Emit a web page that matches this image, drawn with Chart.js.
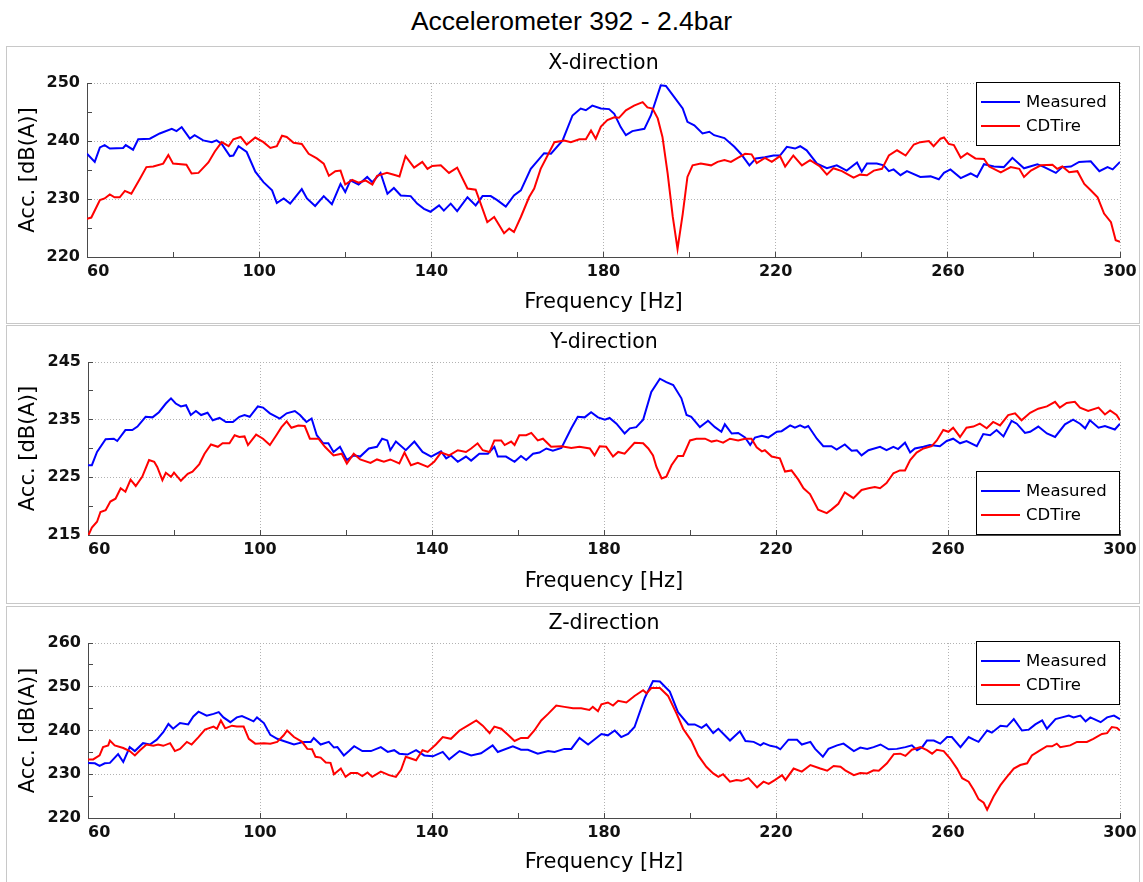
<!DOCTYPE html>
<html>
<head>
<meta charset="utf-8">
<title>Accelerometer 392 - 2.4bar</title>
<script src="https://cdn.jsdelivr.net/npm/chart.js@4.4.1/dist/chart.umd.min.js"></script>
<style>
  html, body { margin: 0; padding: 0; background: #fff; }
  body { width: 1143px; height: 882px; position: relative; overflow: hidden; }
  #figTitle {
    position: absolute; left: 0; top: 8px; width: 1143px; text-align: center;
    font-family: "Liberation Sans", Arial, sans-serif; font-size: 26.5px; line-height: 26.5px; color: #000;
  }
  .panel { position: absolute; left: 6px; width: 1132px; border: 1px solid #c8c8c8; background: #fff; }
  .panel canvas { display: block; }
</style>
</head>
<body>
<div id="figTitle">Accelerometer 392 - 2.4bar</div>
<div class="panel" style="top:46px;height:276px"><canvas id="chartX" width="1132" height="276"></canvas></div>
<div class="panel" style="top:325px;height:277px"><canvas id="chartY" width="1132" height="277"></canvas></div>
<div class="panel" style="top:606px;height:275px"><canvas id="chartZ" width="1132" height="275"></canvas></div>

<script>
// Series: [frequency in Hz, acceleration level in dB(A)]
const seriesNames = ['Measured', 'CDTire'];
const freqTicks = [60, 100, 140, 180, 220, 260, 300];

const xMeasured = [
  [60,237.8],[61.8,236.4],[63,238.9],[64.1,239.3],[65.3,238.7],[68.4,238.8],[69,239.3],[70.7,238.5],[71.9,240.3],
  [74.6,240.4],[76.9,241.3],[79.7,242.1],[80.8,241.7],[82,242.4],[83.9,240.4],[85,241],[87,240.1],[89,239.8],
  [90.1,240.1],[91.3,239.5],[93.2,237.4],[94,237.5],[95.2,239.1],[97.1,238.1],[99.1,234.7],[101,232.9],[103,231.5],
  [104.1,229.3],[105.7,230.1],[107.2,229.2],[109.9,231.7],[111.1,230.1],[113,228.8],[115,230.5],[116.9,229.1],
  [118.9,232.6],[120,231.2],[121.2,233.2],[123.1,232.5],[125.1,233.8],[126.3,232.9],[128.2,234.5],[129.8,230.9],
  [131.3,231.9],[132.9,230.6],[135.2,230.5],[136.7,229.2],[138.3,228.3],[139.8,227.8],[141.8,228.9],[142.9,228],
  [144.5,229.2],[146,227.9],[148.4,230.3],[150.3,228.9],[151.9,230.5],[153.8,230.5],[155.3,229.8],[157.3,228.7],
  [159.2,230.6],[160.8,231.5],[163.1,235.2],[166.2,237.9],[167.8,237.8],[170.5,240.1],[172.8,244.4],[174.7,245.6],
  [175.9,245.3],[177.4,246.1],[179.4,245.6],[181.3,245.5],[182.5,244.7],[184,242.4],[185.2,241],[186.7,241.7],
  [189.5,242.1],[191,244.4],[193.3,249.6],[194.5,249.5],[196.4,247.6],[198.4,245.6],[199.5,243.3],[201.1,242.7],
  [203,241.3],[204.6,241.6],[205.7,241],[208.1,240.5],[210.4,239],[211.9,237.8],[213.9,235.8],[215.4,237],
  [217.5,237.2],[219.5,237.5],[221,237.5],[222.6,239],[224.5,238.7],[225.7,239.1],[227.2,238.4],[229.6,236.1],
  [231.9,235.3],[234.2,235.8],[236.5,234.9],[238.9,236.3],[240,234.7],[241.2,236.1],[243.5,236.1],[245.1,235.8],
  [246.3,234.8],[247.4,235.1],[249,234.1],[250.5,234.8],[253.6,233.8],[256,233.9],[257.9,233.4],[259.1,234.5],
  [260.6,235.1],[263,233.6],[265.3,234.4],[266.8,233.8],[268.4,236],[270.7,235.6],[273,235.5],[275,237.1],
  [277.7,235.3],[280.8,236],[282.4,235.5],[285.1,234.5],[286.6,235.5],[288.6,235.6],[290.5,236.4],[293.2,236.5],
  [295.2,234.8],[297.1,235.5],[298.3,235.1],[300,236.4]
];
const xCDTire = [
  [60,226.6],[61,226.8],[63,229.8],[64.1,230.1],[65.3,230.8],[66.4,230.3],[67.6,230.3],[68.8,231.4],[70.3,230.9],
  [72.3,233.5],[73.8,235.5],[75.4,235.6],[77.7,236.1],[78.9,237.6],[80,236.1],[83.1,235.9],[84.3,234.4],[85.9,234.5],
  [88.2,236.3],[89.7,238.2],[91.3,239.8],[92.9,239.1],[94,240.3],[95.7,240.7],[97.1,239.4],[99.1,240.6],[101,239.8],
  [102.6,238.8],[104.1,239.1],[105.3,240.9],[106.4,240.7],[108,239.7],[109.9,239.5],[111.5,237.8],[113.4,237],
  [115,236.1],[116.2,234],[117.7,234.8],[118.9,234.9],[120,232.5],[121.6,233.3],[123.1,232.8],[124.7,233.2],
  [126.3,232.5],[127.4,234],[129.7,234.5],[131.7,234.1],[132.6,233.9],[134,237.4],[136,235.4],[137.9,236.4],
  [139.1,235.2],[140.2,235.7],[142.2,235.8],[144.1,234.5],[146,235.4],[148.4,231.8],[150.3,231.6],[153,226],
  [154.6,226.9],[156.9,224.1],[158.1,224.9],[159.2,224.3],[160.8,226.9],[162.7,230.3],[163.9,231.8],[165.4,235.2],
  [167,237.5],[168.6,239.8],[170.9,240.1],[172.4,239.8],[174.4,240.3],[175.9,240.3],[177.1,241.8],[178.2,240.4],
  [179.4,242.5],[180.9,243.6],[182.5,244.1],[183.6,244],[185.2,245.3],[187.1,246.1],[189.1,246.7],[190.2,245.8],
  [191.4,245.6],[192.6,243.9],[193.7,240.7],[194.9,234.4],[196.1,226.9],[197.2,221.4],[198.4,227.4],[199.5,233.8],
  [200.7,235.8],[202.6,236.1],[205,235.8],[206.5,236.4],[208.1,236.7],[209.6,236.4],[211.2,237.1],[212.9,237.8],
  [214.4,237.7],[215.6,236.2],[217.5,237.1],[219.1,236.4],[221,237.4],[222.2,235.6],[224.1,237.5],[226.1,235.8],
  [228,236.7],[230.3,235.6],[231.9,234.2],[233.4,235.3],[235.4,234.8],[238.1,233.7],[239.6,234.2],[241.2,234.1],
  [242.8,234.9],[244.7,235.2],[246.3,237.5],[248.2,238.4],[250.2,237.5],[252.1,239.4],[253.6,239.8],[255.6,240],
  [256.7,239.1],[258.3,240.4],[259.1,240.6],[260.2,239.5],[261.4,239.3],[263,237.1],[264.5,237.9],[266.4,237],
  [268.4,236.9],[269.6,235.6],[272.3,234.6],[274.6,235.5],[276.6,235.2],[277.7,233.8],[279.3,234.9],[281.6,235.8],
  [284.3,235.9],[285.4,235.2],[286.6,235.6],[288.2,234.6],[290.1,234.8],[291.7,232.6],[293.2,231.5],[294.8,230.3],
  [296.3,227.5],[297.9,226],[299,222.9],[300,222.6]
];

const yMeasured = [
  [60,227.1],[60.9,227.1],[62.1,229.4],[64.1,231.6],[66,231.7],[66.8,231.3],[68.7,233.2],[70.3,233.2],[71.5,233.8],
  [73.4,235.5],[75,235.4],[76.5,236.3],[78.1,237.8],[79.3,238.7],[80.4,237.8],[81.6,237.3],[82.8,237.5],[83.9,235.8],
  [85.1,236.5],[86.3,235.8],[87.8,236.2],[89,234.9],[90.6,235.3],[92.1,234.6],[93.7,234.6],[95.2,235.5],[96.4,235.8],
  [97.6,235.5],[99.5,237.3],[100.7,237.1],[102.3,236.1],[104.6,235.2],[106.2,236.1],[108.1,236.5],[109.3,235.8],
  [110.8,234.6],[112,235.2],[113.2,232.3],[114.7,230.9],[115.9,230.9],[117.1,229.4],[118.6,230.3],[120.2,228],
  [121.8,228.8],[123.3,228.6],[125.3,230],[127.2,230.3],[128.4,231.7],[129.6,231.4],[130.3,229.7],[131.6,231.2],
  [133.9,229.7],[135.9,231.2],[137.8,229.4],[139.8,228.6],[142.1,229.5],[143.3,228.3],[144.4,228.8],[146,227.7],
  [147.9,228.6],[149.1,227.9],[151,229.1],[153,229.1],[154.5,230.3],[155.3,228.6],[157.2,228.6],[159.2,227.7],
  [160.7,228.7],[161.9,228],[163.5,229.1],[165,229.3],[166.6,230],[168.1,229.6],[170.1,230.1],[172.4,233.5],
  [173.9,235.5],[175.5,235.4],[177,236.3],[178.6,235.4],[180.2,235],[181.3,235.3],[182.9,234.3],[184.8,232.6],
  [186,233.5],[187.5,233.7],[189.1,235],[191,239.8],[193,242.1],[194.5,241.5],[196.1,241],[198,238.7],[199.2,235.8],
  [200.3,235.5],[202.3,233.7],[204.2,234.8],[205.8,233.7],[207.3,232.9],[208.1,234.2],[209.7,232.6],[211.2,232.7],
  [212.8,231.9],[214,230.6],[215.1,231.9],[216.7,232.2],[218.2,231.9],[220.2,232.9],[221.3,233],[223.3,234],
  [224.4,233.6],[225.6,234],[226.7,233.6],[227.5,233.9],[229.5,231.7],[231,230.4],[232.9,230.4],[234.1,229.8],
  [236,230.7],[237.6,229.6],[238.8,229.7],[239.9,228.8],[241.5,229.7],[244.2,230.3],[245.7,229.7],[247.3,230.3],
  [248.4,229.9],[250,231],[251.2,229.3],[252.3,230],[254.3,230.3],[255.8,230.6],[258.1,230.4],[259.7,231.3],
  [261.2,231.7],[262.8,230.9],[264.3,231.3],[266.7,230.4],[268.2,232.5],[269.8,232.3],[271.3,233.2],[272.9,232.1],
  [274.8,234.8],[276,234.3],[277.9,232.7],[279.1,232.9],[281,233.8],[283,232.6],[284.9,232],[287.2,234.2],
  [289.1,235],[290.7,234.3],[291.9,233.5],[293,234.9],[295,233.6],[296.5,233.9],[298.8,233.3],[300,234.3]
];
const yCDTire = [
  [60,214.8],[60.9,216.3],[62.1,217.3],[62.9,219],[64.1,219.3],[65.2,220.8],[66.4,221.3],[67.6,223.1],[68.7,222.5],
  [69.9,224.6],[71.1,223.5],[72.6,225.1],[74.2,228],[75.4,227.7],[76.1,226.8],[77.3,224.5],[78.1,225.8],[79.3,225.1],
  [80,225.8],[81.6,224.4],[83.2,225.6],[84.3,226],[85.9,227.3],[87.1,229.1],[88.6,230.7],[90.2,230.3],[91.3,230.9],
  [92.9,230.9],[94.1,232.3],[95.2,232],[96.4,232.1],[97.2,230.6],[99.1,232.4],[100.7,231.7],[102.3,230.6],
  [103.8,232.3],[105,233.7],[106.2,234.7],[107.3,233.6],[108.9,234],[110.4,233.9],[111.6,231.7],[113.6,231.7],
  [115.1,230.3],[117.1,228.8],[119,229.1],[120.2,227.4],[121.8,229.1],[123.3,228.1],[125.7,227.5],[127.2,228.1],
  [128.8,227.7],[130.3,228.1],[132.4,227.4],[133.6,229.3],[135.1,227.1],[136.7,227.5],[139,226.8],[140.5,227.7],
  [142.1,229.3],[144,228.8],[146,229.7],[147.9,229.4],[149.1,230],[150.6,230.9],[151.8,229.7],[153.4,229.4],
  [154.5,231.4],[156.1,231.4],[156.9,230.6],[158.4,231.2],[159.2,230.6],[160.3,232.3],[161.9,232.3],[163.1,232.7],
  [164.6,231.4],[165.8,231.7],[167.7,230.3],[170.1,230.4],[172.4,230.1],[174.3,230.3],[176.7,230],[177.8,228.8],
  [179,230.4],[180.5,230.3],[182.1,228.6],[183.3,229.4],[184.8,229.1],[187.1,231],[189.1,230.9],[190.3,230],
  [191.4,228.8],[192.2,226.8],[193.4,224.8],[194.5,225.1],[195.7,227.1],[197.2,228.7],[198.4,228.7],[200,231.4],
  [201.5,231.7],[203.5,231.7],[205,231.2],[206.2,231.4],[207.7,231],[209.3,231.7],[211.2,231.4],[212.8,231.7],
  [214.3,231.7],[215.5,230.2],[216.7,229.5],[217.4,229.7],[219,228.6],[220.9,228.3],[222.1,226],[223.6,226.2],
  [225.2,224.6],[226.4,223.1],[227.9,222.1],[229.8,219.4],[231.8,218.8],[232.9,219.4],[234.5,220.4],[236,222.4],
  [238,221.4],[239.9,222.8],[241.5,223.1],[243,223.3],[244.2,223.1],[245.7,224],[247.3,225.7],[248.8,226.2],
  [250,226.2],[251.2,228],[252.7,229.3],[254.3,230],[256.2,230.4],[257.4,231.4],[258.9,233.2],[260.1,232.9],
  [261.2,233.6],[262.8,232],[264.3,233.6],[265.9,233.8],[267.4,234.3],[269,233.5],[270.5,234.6],[272.1,234],
  [274,235.8],[275.6,236.1],[277.1,234.9],[279.1,236.2],[281,236.9],[283,237.3],[284.9,238.1],[286,237.1],
  [287.6,237.9],[289.5,238.1],[290.7,237.1],[292.6,236.5],[295,237.1],[296.5,235.9],[297.7,236.6],[299.2,235.8],
  [300,234.9]
];

const zMeasured = [
  [60,232.6],[61.6,232.5],[62.7,231.9],[63.9,232.5],[65.1,232.6],[67,234.6],[68.2,232.8],[69.7,236.2],[70.9,235.3],
  [72.8,237.1],[74.4,236.8],[76,237.9],[77.5,239.6],[78.7,241.5],[79.8,240.4],[81.4,241.7],[83.3,241.4],[84.5,243.2],
  [85.7,244.3],[87.6,243.4],[89.2,243.8],[90.4,244.2],[91.5,243],[93.1,241.9],[94.6,243],[95.8,243.3],[97.4,242.6],
  [98.5,242.1],[99.3,243],[100.9,241.7],[102.4,239],[104,238.1],[105.5,237.6],[107.9,236.8],[110.2,237.4],
  [111.8,237.4],[112.5,238.3],[114.1,236.8],[116,237.4],[117.2,236.1],[118,236.2],[119.5,234.3],[120.7,235.3],
  [121.9,236.4],[123.8,235.3],[125.8,235.3],[128.1,236.2],[129.7,235.1],[131.2,235.5],[132.4,234.7],[134.3,234.5],
  [136.3,235.5],[138.2,234.3],[140.2,234.1],[142.5,235.1],[144,233.4],[146.4,235.3],[149.1,234.3],[151.4,234.8],
  [154.1,236.6],[155.3,235.1],[158.8,236.4],[160.7,235.6],[162.3,235.6],[164.6,234.7],[167,235.3],[168.5,235.1],
  [170.8,235.8],[172.4,235.8],[174.3,238.3],[176.3,236.8],[179.4,239.2],[180.9,238.9],[182.5,240],[184,238.5],
  [185.6,239.2],[187.1,240.8],[189.5,247.5],[191.4,251.3],[193,251.2],[195.3,248.9],[197.2,244.2],[199.6,241.4],
  [201.1,241.4],[202.7,240.6],[203.8,241.4],[205.4,239.4],[206.6,240.4],[209.3,237.7],[211.6,239.8],[212.9,237.6],
  [214.8,237.4],[216.4,236.6],[217.1,237.1],[218.7,236.5],[220.2,236.2],[221,235.7],[222.9,237.9],[224.9,237.9],
  [226,236.8],[228,237.4],[229.1,235.8],[230.9,234],[232.2,235.8],[234.2,236.6],[235.7,237],[238.1,235.3],
  [239.6,236.1],[241.2,235.8],[242.7,236.2],[244.3,236.8],[246.2,235.7],[248.1,235.8],[250.1,236.2],[251.6,236.6],
  [252.8,235.5],[254,236.2],[255.1,237.7],[256.7,237.7],[258.2,237],[259.8,238.5],[260.9,238.5],[262.9,236.2],
  [264.8,238.5],[266,237.9],[267.1,237.4],[269.1,240],[270.2,239.5],[272.2,241.1],[273.7,240.9],[275.3,242.6],
  [277.2,240],[278.8,240.2],[280.3,241.4],[281.9,242.3],[283,240.4],[285,242.6],[286.5,243],[288.1,243.4],
  [289.2,243],[290.8,243.4],[292,242.1],[293.1,243],[295.5,241.9],[297,243],[298.6,243.4],[300,242.6]
];
const zCDTire = [
  [60,233.4],[61.2,233.4],[62.7,234.3],[63.5,236.2],[64.7,236.6],[65.1,237.7],[66.2,236.6],[68.2,236],[69.7,235.3],
  [70.9,234.3],[72.1,235.5],[73.6,236.8],[75.2,236.5],[76.3,236.8],[77.5,236.5],[79.1,237.1],[80.2,235.3],[81.4,235.8],
  [83,237.4],[84.1,236.8],[85.7,238.5],[87.2,240.2],[89.2,240.9],[90,240.4],[90.9,242.3],[91.9,240.5],[93.5,241.1],
  [94.6,240.9],[96.2,240.9],[97.4,238.1],[98.9,237],[100.9,237.1],[102.4,237],[104,237.4],[105.5,238.9],[106.3,240],
  [107.9,238.5],[109.8,237.4],[111,235.8],[112.1,235.7],[112.9,234],[114.1,233.8],[115.3,232.7],[116.4,232.6],
  [117.2,230],[118.8,231.3],[119.9,229.4],[121.1,230.3],[122.6,230.3],[123.8,229.6],[125,230.4],[126.1,229.4],
  [128.1,230.6],[130,229.8],[131.6,229.4],[132.8,231],[133.9,234],[135.1,233.6],[136.3,233.2],[137.8,235.5],
  [139,235.1],[140.9,236.8],[142.5,238.5],[144.4,238.1],[146.4,240],[148.3,241.1],[150.3,242.3],[151.8,241.1],
  [153.4,239.4],[154.5,240.9],[156.1,240.4],[157.6,239.1],[159.2,237.6],[160.7,238.3],[162.3,238.3],[163.8,240],
  [165.4,242.3],[167,243.8],[168.9,245.7],[170.8,245.4],[172.8,245.1],[174.7,245.1],[176.6,244.7],[177.4,245.4],
  [178.6,244.4],[179.4,246],[180.9,246.4],[182.1,245.7],[183.3,246.8],[185.2,246.4],[187.1,247.9],[189.1,249.2],
  [189.9,248.5],[191,249.7],[193,249.7],[194.9,247.9],[196.9,243.8],[198.4,240.4],[200.3,237.7],[201.9,234.3],
  [203.8,231.7],[205.4,230.2],[206.6,229.4],[207.7,230],[209.3,228.3],[210.8,228.7],[212,228.5],[213.6,229.1],
  [215.6,227],[217.1,228.3],[218.3,227.8],[219.8,228.7],[221.4,229.8],[222.2,228.7],[224.1,231.3],[226,230.6],
  [228,232.1],[230.3,231.3],[231.9,230.8],[233.4,231.9],[235,231.7],[236.1,230.9],[238.1,229.8],[239.6,230.3],
  [241.2,230.2],[242.7,230.9],[243.9,230.8],[245.8,232.5],[247.4,234.6],[248.9,234.7],[250.1,234.2],[251.6,235.6],
  [253.6,236.2],[255.1,235.5],[256.3,234.7],[257.4,235.6],[259,235.3],[260.5,233.6],[262.1,231.3],[263.3,229.1],
  [264.8,228.3],[266,226.4],[267.1,224.3],[268.3,223.5],[269.1,221.9],[270.6,224.9],[272.2,227.5],[273.7,229.4],
  [275.3,231.3],[276.8,232.1],[278.4,232.5],[279.5,234.3],[281.1,235.3],[283,236.4],[284.2,236.4],[285.3,237],
  [286.1,236.2],[288.4,236.6],[290,237.4],[292.3,237.4],[293.8,238.1],[295.8,239.2],[297,239.4],[298.1,240.8],
  [299.3,240.6],[300,240]
];

// Level-axis ranges and labelled ticks for each direction
const xLevelTicks = [220, 230, 240, 250];
const yLevelTicks = [215, 225, 235, 245];
const zLevelTicks = [220, 230, 240, 250, 260];

Chart.defaults.font.family = '"DejaVu Sans", sans-serif';
Chart.defaults.color = '#111';

const GRID_COLOR = '#b2b2b2';
const AXIS_COLOR = '#4a4a4a';

// Boxed legend drawn in a corner of the plot area
const cornerLegend = {
  id: 'cornerLegend',
  afterDatasetsDraw(chart, args, opts) {
    const { ctx, chartArea } = chart;
    const w = 144, h = 64;
    const x = chartArea.right - w;
    const y = opts.place === 'bottom' ? chartArea.bottom - h : chartArea.top + (opts.dy || 0);
    ctx.save();
    ctx.fillStyle = '#fff';
    ctx.fillRect(x, y, w, h);
    ctx.strokeStyle = '#000';
    ctx.lineWidth = 1;
    ctx.strokeRect(Math.round(x) + 0.5, Math.round(y) + 0.5, w - 1, h - 1);
    ctx.font = '16.5px "DejaVu Sans", sans-serif';
    ctx.textBaseline = 'middle';
    ctx.textAlign = 'left';
    chart.data.datasets.forEach((ds, i) => {
      const ly = y + 20 + i * 24;
      ctx.strokeStyle = ds.borderColor;
      ctx.lineWidth = 2;
      ctx.beginPath();
      ctx.moveTo(x + 5, ly);
      ctx.lineTo(x + 44, ly);
      ctx.stroke();
      ctx.fillStyle = '#000';
      ctx.fillText(ds.label, x + 50, ly + 1);
    });
    ctx.restore();
  }
};

function toPoints(pairs) {
  return pairs.map(p => ({ x: p[0], y: p[1] }));
}

function makePanel(id, title, measured, cdtire, levelTicks, g) {
  const yMin = levelTicks[0];
  const yMax = levelTicks[levelTicks.length - 1];
  const isMajorX = v => freqTicks.includes(v);
  const isMajorY = v => levelTicks.includes(v);
  const tickValue = c => (c && c.tick) ? c.tick.value : NaN;

  return new Chart(document.getElementById(id), {
    type: 'line',
    data: {
      datasets: [
        { label: seriesNames[0], data: toPoints(measured), borderColor: '#0000ff', borderWidth: 2,
          pointRadius: 0, tension: 0, fill: false, order: 2 },
        { label: seriesNames[1], data: toPoints(cdtire), borderColor: '#ff0000', borderWidth: 2,
          pointRadius: 0, tension: 0, fill: false, order: 1 }
      ]
    },
    options: {
      responsive: false,
      animation: false,
      devicePixelRatio: 1,
      events: [],
      layout: { padding: { left: 0, right: 19, top: 0, bottom: 0 } },
      plugins: {
        legend: { display: false },
        tooltip: { enabled: false },
        title: {
          display: true, text: title, fullSize: false, color: '#000',
          font: { size: 20.5, weight: 'normal', lineHeight: 1.2 },
          padding: { top: 4, bottom: 36 - 4 - 24.6 }
        },
        cornerLegend: { place: g.legend, dy: g.legendDy }
      },
      scales: {
        x: {
          type: 'linear', min: 60, max: 300,
          // fixed band height; end labels may overhang the plot edges
          afterFit: s => { s.height = g.xHeight; s.paddingLeft = 0; s.paddingRight = 0; },
          ticks: {
            stepSize: 20, autoSkip: false, maxRotation: 0, padding: 10, color: '#111',
            font: { size: 16, weight: 'bold', lineHeight: 1.2 },
            callback: v => isMajorX(v) ? (v === 60 ? '    60' : String(v)) : ''
          },
          grid: {
            color: c => isMajorX(tickValue(c)) ? GRID_COLOR : 'rgba(0,0,0,0)',
            lineWidth: 1, drawTicks: true, tickLength: -5, tickColor: AXIS_COLOR, tickWidth: 1
          },
          border: { display: true, color: AXIS_COLOR, width: 1, dash: [1, 2] },
          title: {
            display: true, text: 'Frequency [Hz]', color: '#000',
            font: { size: 21, weight: 'normal', lineHeight: 1.2 },
            padding: { top: 0, bottom: g.xTitlePad }
          }
        },
        y: {
          type: 'linear', min: yMin, max: yMax,
          afterFit: s => { s.width = g.left; },
          ticks: {
            stepSize: 5, autoSkip: false, padding: 12, color: '#111',
            font: { size: 16, weight: 'bold', lineHeight: 1.2 },
            callback: v => isMajorY(v) ? String(v) : ''
          },
          grid: {
            color: c => isMajorY(tickValue(c)) ? GRID_COLOR : 'rgba(0,0,0,0)',
            lineWidth: 1, drawTicks: true, tickLength: -5, tickColor: AXIS_COLOR, tickWidth: 1
          },
          border: { display: true, color: AXIS_COLOR, width: 1, dash: [1, 2] },
          title: {
            display: true, text: 'Acc. [dB(A)]', color: '#000',
            font: { size: 21, weight: 'normal', lineHeight: 1.2 },
            padding: { top: 9, bottom: 0 }
          }
        }
      }
    },
    plugins: [cornerLegend]
  });
}

makePanel('chartX', 'X-direction', xMeasured, xCDTire, xLevelTicks,
  { left: 80, xHeight: 66, xTitlePad: 8, legend: 'top', legendDy: -1 });
makePanel('chartY', 'Y-direction', yMeasured, yCDTire, yLevelTicks,
  { left: 81, xHeight: 68, xTitlePad: 9, legend: 'bottom', legendDy: 0 });
makePanel('chartZ', 'Z-direction', zMeasured, zCDTire, zLevelTicks,
  { left: 81, xHeight: 64, xTitlePad: 7, legend: 'top', legendDy: -2 });
</script>
</body>
</html>
